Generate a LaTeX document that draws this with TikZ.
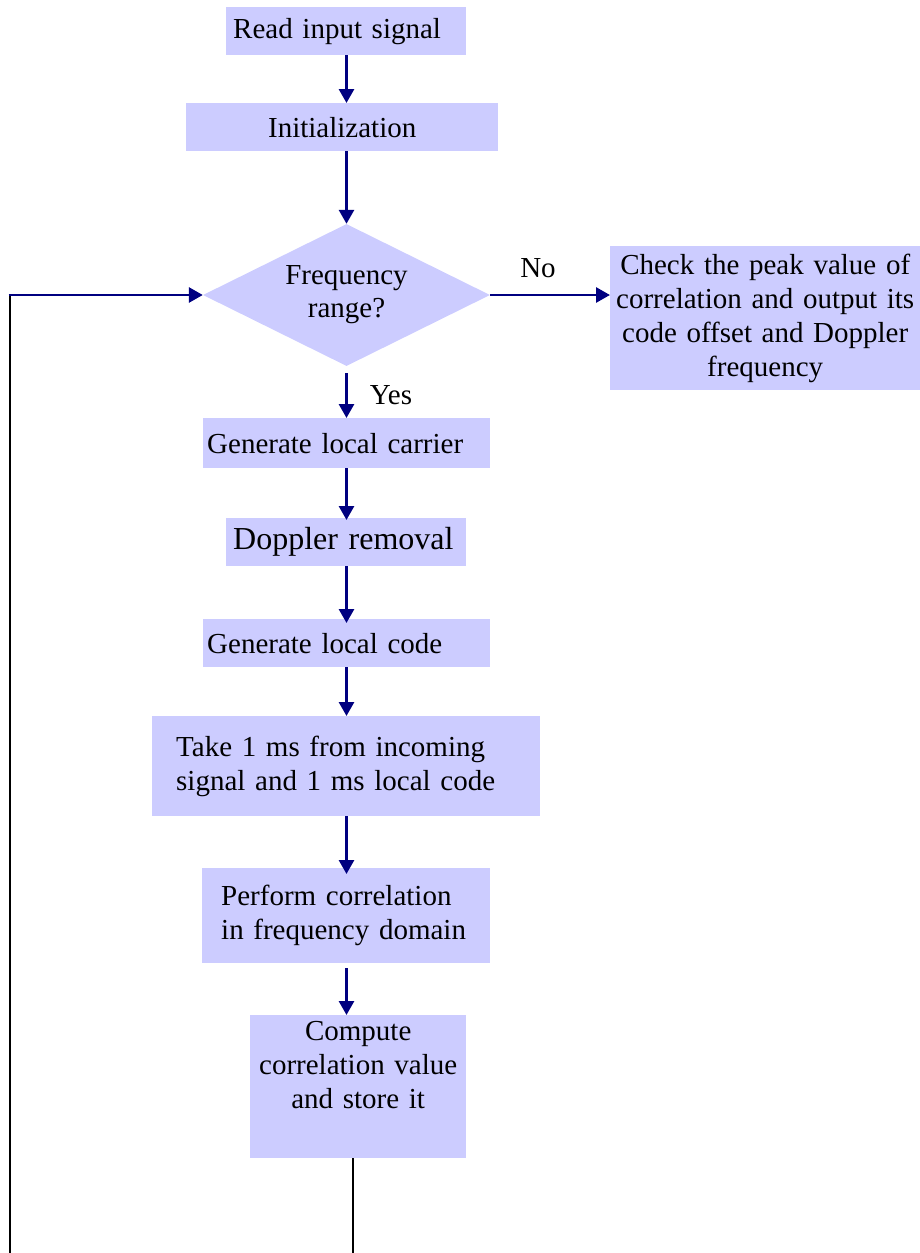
\documentclass[tikz,border=0pt]{standalone}
\usepackage{fontspec}
\setmainfont{Liberation Serif}
\usetikzlibrary{shapes.geometric,arrows.meta}
\definecolor{boxfill}{RGB}{204,204,255}
\definecolor{flownavy}{RGB}{0,0,128}
\begin{document}
\begin{tikzpicture}[x=1pt,y=-1pt,
  box/.style={fill=boxfill, inner ysep=0pt, anchor=north west,
    font=\fontsize{29}{34}\selectfont},
  decision/.style={diamond, fill=boxfill, inner sep=0pt, aspect=2,
    minimum width=287pt, minimum height=142pt,
    align=center, font=\fontsize{29}{33}\selectfont},
  flow/.style={draw=flownavy, line width=2.8pt,
    -{Triangle[length=14pt,width=15pt]}},
  back/.style={draw=black, line width=2.8pt},
  lbl/.style={font=\fontsize{29}{33}\selectfont, inner sep=0pt}]
\useasboundingbox (0,0) rectangle (920,1253);

% process boxes
\node[box, text width=226pt, inner xsep=7pt, minimum height=48pt, align=left]
  (read) at (226,7) {Read input signal};
\node[box, text width=296pt, inner xsep=8pt, minimum height=48pt, align=center]
  (init) at (186,103) {Initialization};
\node[decision] (freq) at (346.5,295) {Frequency\\range?};
\node[box, text width=310pt, inner xsep=0pt, minimum height=144pt, align=center]
  (check) at (610,246) {Check the peak value of\\correlation and output its\\code offset and Doppler\\frequency};
\node[box, text width=279pt, inner xsep=4pt, minimum height=50pt, align=left]
  (carrier) at (203,418) {Generate local carrier};
\node[box, text width=226pt, inner xsep=7pt, minimum height=48pt, align=left,
  font=\fontsize{32}{36}\selectfont]
  (doppler) at (226,518) {Doppler removal};
\node[box, text width=279pt, inner xsep=4pt, minimum height=48pt, align=left]
  (code) at (203,619) {Generate local code};
\node[box, text width=340pt, inner xsep=24pt, minimum height=100pt, align=left]
  (take) at (152,716) {Take 1 ms from incoming\\signal and 1 ms local code};
\node[box, text width=250pt, inner xsep=19pt, minimum height=95pt, align=left]
  (perf) at (202,868) {Perform correlation\\in frequency domain};
\node[box, text width=200pt, inner xsep=8pt, minimum height=143pt, align=center]
  (comp) at (250,1015) {Compute\\correlation value\\and store it\\\strut};

% branch labels
\node[lbl] (nolbl) at (538,268) {No};
\node[lbl] (yeslbl) at (391,395) {Yes};

% loop-back line ends
\coordinate (compend) at (353,1253);
\coordinate (leftend) at (10,1253);
\coordinate (leftcorner) at (10,295);

% main flow
\draw[flow] (read.south -| freq.north) -- (init.north -| freq.north);
\draw[flow] (init.south -| freq.north) -- (freq.north);
\draw[flow] (freq.east) -- (freq.east -| check.west);
\draw[flow, shorten <=7pt] (freq.south) -- (carrier.north -| freq.south);
\draw[flow] (carrier.south -| freq.south) -- ([yshift=-2pt]doppler.north -| freq.south);
\draw[flow] (doppler.south -| freq.south) -- ([yshift=-4pt]code.north -| freq.south);
\draw[flow] (code.south -| freq.south) -- (take.north -| freq.south);
\draw[flow] (take.south -| freq.south) -- ([yshift=-6pt]perf.north -| freq.south);
\draw[flow, shorten <=5pt] (perf.south -| freq.south) -- (comp.north -| freq.south);

% loop back to the frequency test
\draw[back] (comp.south -| compend) -- (compend);
\draw[back] (leftend) -- ([yshift=-1.4pt]leftcorner);
\draw[flow] ([xshift=-1.4pt]leftcorner) -- (freq.west);
\end{tikzpicture}
\end{document}
